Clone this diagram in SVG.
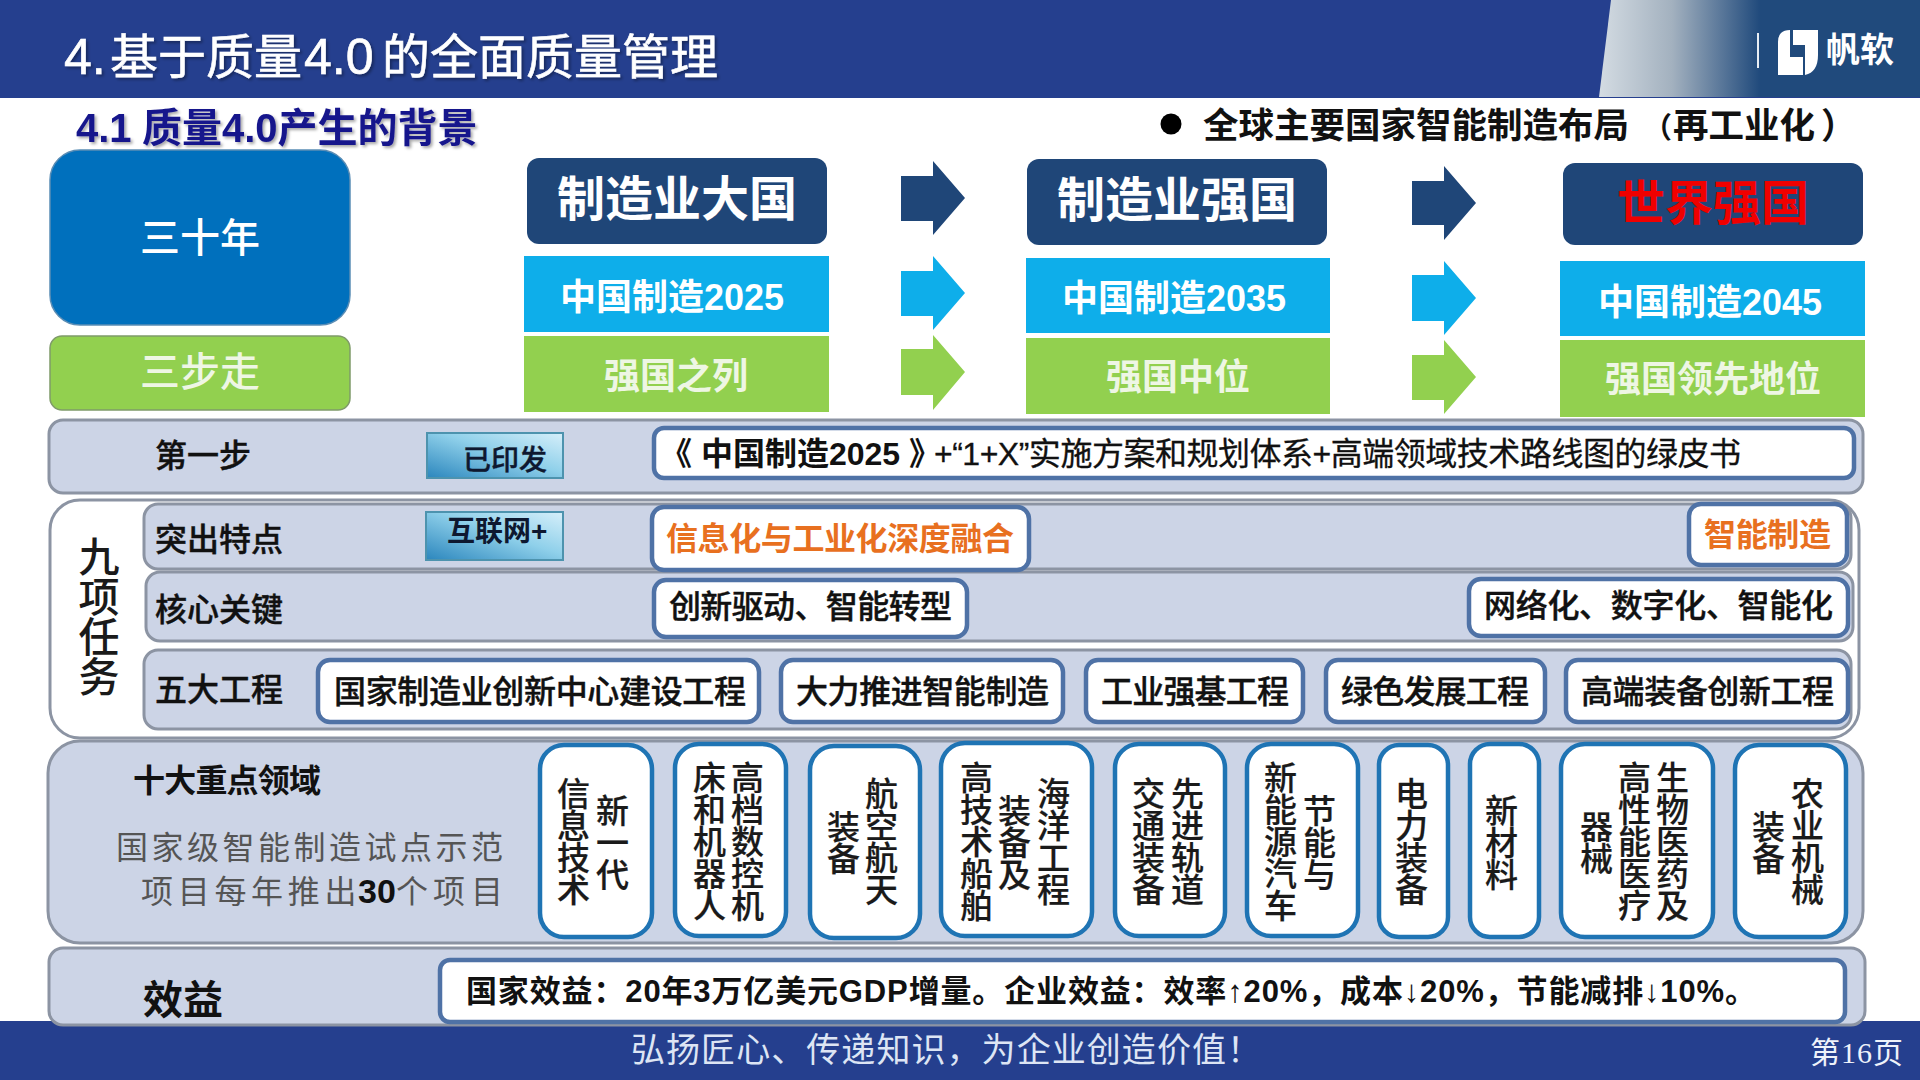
<svg xmlns="http://www.w3.org/2000/svg" width="1920" height="1080" viewBox="0 0 1920 1080">
<defs>
<linearGradient id="hg" x1="1600" y1="0" x2="1760" y2="0" gradientUnits="userSpaceOnUse"><stop offset="0" stop-color="#d3dbe2"/><stop offset="0.45" stop-color="#a3b1bf"/><stop offset="1" stop-color="#204a7c"/></linearGradient>
<linearGradient id="tag" x1="0" y1="1" x2="1" y2="0"><stop offset="0" stop-color="#2b86bd"/><stop offset="0.55" stop-color="#8fd0ea"/><stop offset="1" stop-color="#d6effa"/></linearGradient>
<filter id="sh" x="-5%" y="-20%" width="110%" height="140%"><feDropShadow dx="2" dy="2" stdDeviation="1.5" flood-color="#000" flood-opacity="0.35"/></filter>
</defs>
<style>
text{font-family:"Liberation Sans","Noto Sans CJK SC",sans-serif;}
.b{font-weight:700;}
.wb{fill:#fff;font-weight:700;text-anchor:middle;}
.k{fill:#111;font-size:32px;font-weight:500;stroke:#111;stroke-width:0.4px;}
.v{fill:#1a1a1a;font-size:33px;letter-spacing:-1px;writing-mode:vertical-rl;font-weight:500;stroke:#1a1a1a;stroke-width:0.2px;}
.panel{fill:#ccd4e6;stroke:#8c94a3;stroke-width:3;}
.wbox{fill:#fff;stroke:#4f72a6;stroke-width:4.5;}
.pill{fill:#fff;stroke:#1f74b4;stroke-width:4.5;}
.navy{fill:#1f4678;}.cyan{fill:#0eaeea;}.green{fill:#92d04f;}
.tag{fill:url(#tag);stroke:#4d93ae;stroke-width:2;}
</style>
<rect width="1920" height="1080" fill="#fff"/>
<g id="header">
<rect width="1920" height="98" fill="#253f8e"/>
<polygon points="1611,0 1920,0 1920,97 1599,97" fill="url(#hg)"/>
<text y="74" font-size="48" fill="#fff" stroke="#fff" stroke-width="0.6" filter="url(#sh)"><tspan x="64" font-size="50">4.</tspan><tspan x="110">基于质量</tspan><tspan x="304" font-size="50">4.0</tspan><tspan x="382">的全面质量管理</tspan></text>
<rect x="1757" y="33" width="2" height="35" fill="#e8eef4"/>
<path d="M1778 75V42Q1778 30 1790 30V57H1803V75ZM1793 30H1818V55Q1818 72 1805 75V45H1793Z" fill="#fff"/>
<text class="b" x="1826" y="62" font-size="34" fill="#fff" textLength="68">帆软</text>
</g>
<g id="footer">
<rect y="1021" width="1920" height="59" fill="#253f8e"/>
<text x="631" y="1062" font-size="34" fill="#dde5f4" textLength="630">弘扬匠心、传递知识，为企业创造价值！</text>
<text x="1810" y="1063" font-size="30" fill="#eef2fa" textLength="93">第<tspan font-family="Liberation Serif">16</tspan>页</text>
</g>
<text id="subtitle" class="b" y="142" font-size="40" fill="#15158c" filter="url(#sh)"><tspan x="76">4.1</tspan><tspan x="142">质量4.0产生的背景</tspan></text>
<g id="world">
<circle cx="1171" cy="124" r="10.5" fill="#000"/>
<text class="b" y="138" font-size="35.5" fill="#111"><tspan x="1203">全球主要国家智能制造布局</tspan><tspan x="1643" font-size="29">（</tspan><tspan x="1673">再工业化</tspan><tspan x="1821">）</tspan></text>
</g>
<g id="n30"><rect x="50" y="150" width="300" height="175" rx="30" fill="#0070bd" stroke="#5a8db5" stroke-width="1.5"/><text class="wb" x="200" y="252" font-size="40" style="font-weight:500">三十年</text></g>
<g id="n3step"><rect x="50" y="336" width="300" height="74" rx="12" fill="#92d04f" stroke="#7f9a6a" stroke-width="1.5"/><text class="wb" x="200" y="386" font-size="40" style="font-weight:500;fill:#eef6e4">三步走</text></g>

<g id="c1">
<rect class="navy" x="527" y="158" width="300" height="86" rx="12"/><text class="wb" x="677" y="216" font-size="48">制造业大国</text>
<rect class="cyan" x="524" y="256" width="305" height="76"/><text class="wb" x="672" y="310" font-size="36">中国制造2025</text>
<rect class="green" x="524" y="336" width="305" height="76"/><text class="wb" x="676" y="389" font-size="36" style="fill:#eef6e4">强国之列</text>
</g>
<g id="c2">
<rect class="navy" x="1027" y="159" width="300" height="86" rx="12"/><text class="wb" x="1177" y="217" font-size="48">制造业强国</text>
<rect class="cyan" x="1026" y="258" width="304" height="75"/><text class="wb" x="1174" y="311" font-size="36">中国制造2035</text>
<rect class="green" x="1026" y="338" width="304" height="76"/><text class="wb" x="1178" y="390" font-size="36" style="fill:#eef6e4">强国中位</text>
</g>
<g id="c3">
<rect class="navy" x="1563" y="163" width="300" height="82" rx="12"/><text class="wb" x="1713" y="220" font-size="48" style="fill:#f00000">世界强国</text>
<rect class="cyan" x="1560" y="261" width="305" height="75"/><text class="wb" x="1710" y="315" font-size="36">中国制造2045</text>
<rect class="green" x="1560" y="340" width="305" height="77"/><text class="wb" x="1713" y="392" font-size="36" style="fill:#eef6e4">强国领先地位</text>
</g>
<g id="connectors">
<polygon class="navy" points="901,176 933,176 933,161 965,198 933,235 933,221 901,221"/>
<polygon class="cyan" points="901,271 933,271 933,256 965,293 933,330 933,316 901,316"/>
<polygon class="green" points="901,349 933,349 933,335 965,372 933,410 933,395 901,395"/>
<polygon class="navy" points="1412,181 1444,181 1444,166 1476,203 1444,240 1444,225 1412,225"/>
<polygon class="cyan" points="1412,275 1444,275 1444,261 1476,298 1444,335 1444,321 1412,321"/>
<polygon class="green" points="1412,355 1444,355 1444,340 1476,377 1444,414 1444,400 1412,400"/>
</g>

<g id="step1">
<rect class="panel" x="49" y="420" width="1814" height="73" rx="14"/>
<text class="k b" x="155" y="467">第一步</text>
<rect class="tag" x="427" y="433" width="136" height="45"/>
<text x="463" y="470" font-size="28" fill="#0e1830" font-weight="500" stroke="#0e1830" stroke-width="0.4">已印发</text>
<rect class="wbox" x="654" y="428" width="1200" height="50" rx="10"/>
<text class="b" x="660" y="465" font-size="32" fill="#111">《 中国制造2025 》</text>
<text x="934" y="465" font-size="32" fill="#111" stroke="#111" stroke-width="0.3" textLength="807">+“1+X”实施方案和规划体系+高端领域技术路线图的绿皮书</text>
</g>

<g id="nine">
<rect x="50" y="500" width="1809" height="238" rx="30" fill="#fff" stroke="#8c94a3" stroke-width="3"/>
<text x="95" y="536" font-size="41" fill="#1a1a1a" style="writing-mode:vertical-rl;letter-spacing:-1px;font-weight:500">九项任务</text>
<rect class="panel" x="144" y="504" width="1707" height="65" rx="14"/>
<rect class="panel" x="146" y="572" width="1707" height="69" rx="14"/>
<rect class="panel" x="144" y="650" width="1707" height="79" rx="14"/>
<text class="k b" x="155" y="551">突出特点</text>
<text class="k b" x="155" y="621">核心关键</text>
<text class="k b" x="155" y="701">五大工程</text>
<rect class="tag" x="426" y="512" width="137" height="48"/>
<text x="447" y="541" font-size="28" fill="#0e1830" font-weight="700">互联网+</text>
<rect class="wbox" x="652" y="507" width="377" height="63" rx="12"/>
<text class="b" x="666" y="550" font-size="32" fill="#e8701f" textLength="348">信息化与工业化深度融合</text>
<rect class="wbox" x="1689" y="504" width="158" height="61" rx="12"/>
<text class="b" x="1704" y="546" font-size="32" fill="#e8701f" textLength="127">智能制造</text>
<rect class="wbox" x="654" y="580" width="313" height="57" rx="12"/>
<text class="k" x="669" y="618" textLength="283">创新驱动、智能转型</text>
<rect class="wbox" x="1469" y="579" width="379" height="57" rx="12"/>
<text class="k" x="1484" y="617" textLength="349">网络化、数字化、智能化</text>
<rect class="wbox" x="318" y="660" width="441" height="62" rx="12"/>
<text class="k" x="334" y="703" textLength="412">国家制造业创新中心建设工程</text>
<rect class="wbox" x="781" y="660" width="282" height="62" rx="12"/>
<text class="k" x="796" y="703" textLength="253">大力推进智能制造</text>
<rect class="wbox" x="1086" y="660" width="217" height="62" rx="12"/>
<text class="k" x="1101" y="703" textLength="188">工业强基工程</text>
<rect class="wbox" x="1326" y="660" width="219" height="62" rx="12"/>
<text class="k" x="1341" y="703" textLength="188">绿色发展工程</text>
<rect class="wbox" x="1566" y="660" width="282" height="62" rx="12"/>
<text class="k" x="1581" y="703" textLength="253">高端装备创新工程</text>
</g>

<g id="ten">
<rect class="panel" x="48" y="741" width="1815" height="202" rx="32"/>
<text class="b" x="133" y="792" font-size="32" fill="#111" textLength="188">十大重点领域</text>
<text x="116" y="859" font-size="32" fill="#555" letter-spacing="3.5">国家级智能制造试点示范</text>
<text y="903" font-size="32" fill="#555"><tspan x="141" letter-spacing="4.7">项目每年推出</tspan><tspan x="358" fill="#111" font-weight="700" font-size="34">30</tspan><tspan x="396">个</tspan><tspan x="433" letter-spacing="6">项目</tspan></text>
<rect class="pill" x="540" y="745" width="112" height="192" rx="24"/>
<rect class="pill" x="675" y="744" width="111" height="192" rx="24"/>
<rect class="pill" x="810" y="746" width="110" height="192" rx="24"/>
<rect class="pill" x="941" y="743" width="151" height="193" rx="24"/>
<rect class="pill" x="1115" y="744" width="110" height="192" rx="24"/>
<rect class="pill" x="1247" y="744" width="111" height="192" rx="24"/>
<rect class="pill" x="1379" y="745" width="69" height="192" rx="20"/>
<rect class="pill" x="1470" y="744" width="69" height="193" rx="20"/>
<rect class="pill" x="1561" y="744" width="152" height="193" rx="24"/>
<rect class="pill" x="1735" y="745" width="111" height="192" rx="24"/>
<text class="v" x="610" y="794">新一代</text><text class="v" x="571" y="777">信息技术</text>
<text class="v" x="745" y="761">高档数控机</text><text class="v" x="707" y="761">床和机器人</text>
<text class="v" x="879" y="777">航空航天</text><text class="v" x="841" y="810">装备</text>
<text class="v" x="1051" y="777">海洋工程</text><text class="v" x="1012" y="794">装备及</text><text class="v" x="974" y="761">高技术船舶</text>
<text class="v" x="1185" y="777">先进轨道</text><text class="v" x="1146" y="777">交通装备</text>
<text class="v" x="1317" y="794">节能与</text><text class="v" x="1278" y="761">新能源汽车</text>
<text class="v" x="1409" y="777">电力装备</text>
<text class="v" x="1499" y="794">新材料</text>
<text class="v" x="1670" y="761">生物医药及</text><text class="v" x="1632" y="761">高性能医疗</text><text class="v" x="1594" y="810">器械</text>
<text class="v" x="1805" y="777">农业机械</text><text class="v" x="1766" y="810">装备</text>
</g>

<g id="benefit">
<rect class="panel" x="49" y="948" width="1816" height="77" rx="14"/>
<text class="b" x="143" y="1014" font-size="40" fill="#111">效益</text>
<rect class="wbox" x="440" y="960" width="1405" height="62" rx="10"/>
<text class="b" x="466" y="1002" font-size="31" fill="#111" textLength="1290">国家效益：20年3万亿美元GDP增量。企业效益：效率↑20%，成本↓20%，节能减排↓10%。</text>
</g>
</svg>
